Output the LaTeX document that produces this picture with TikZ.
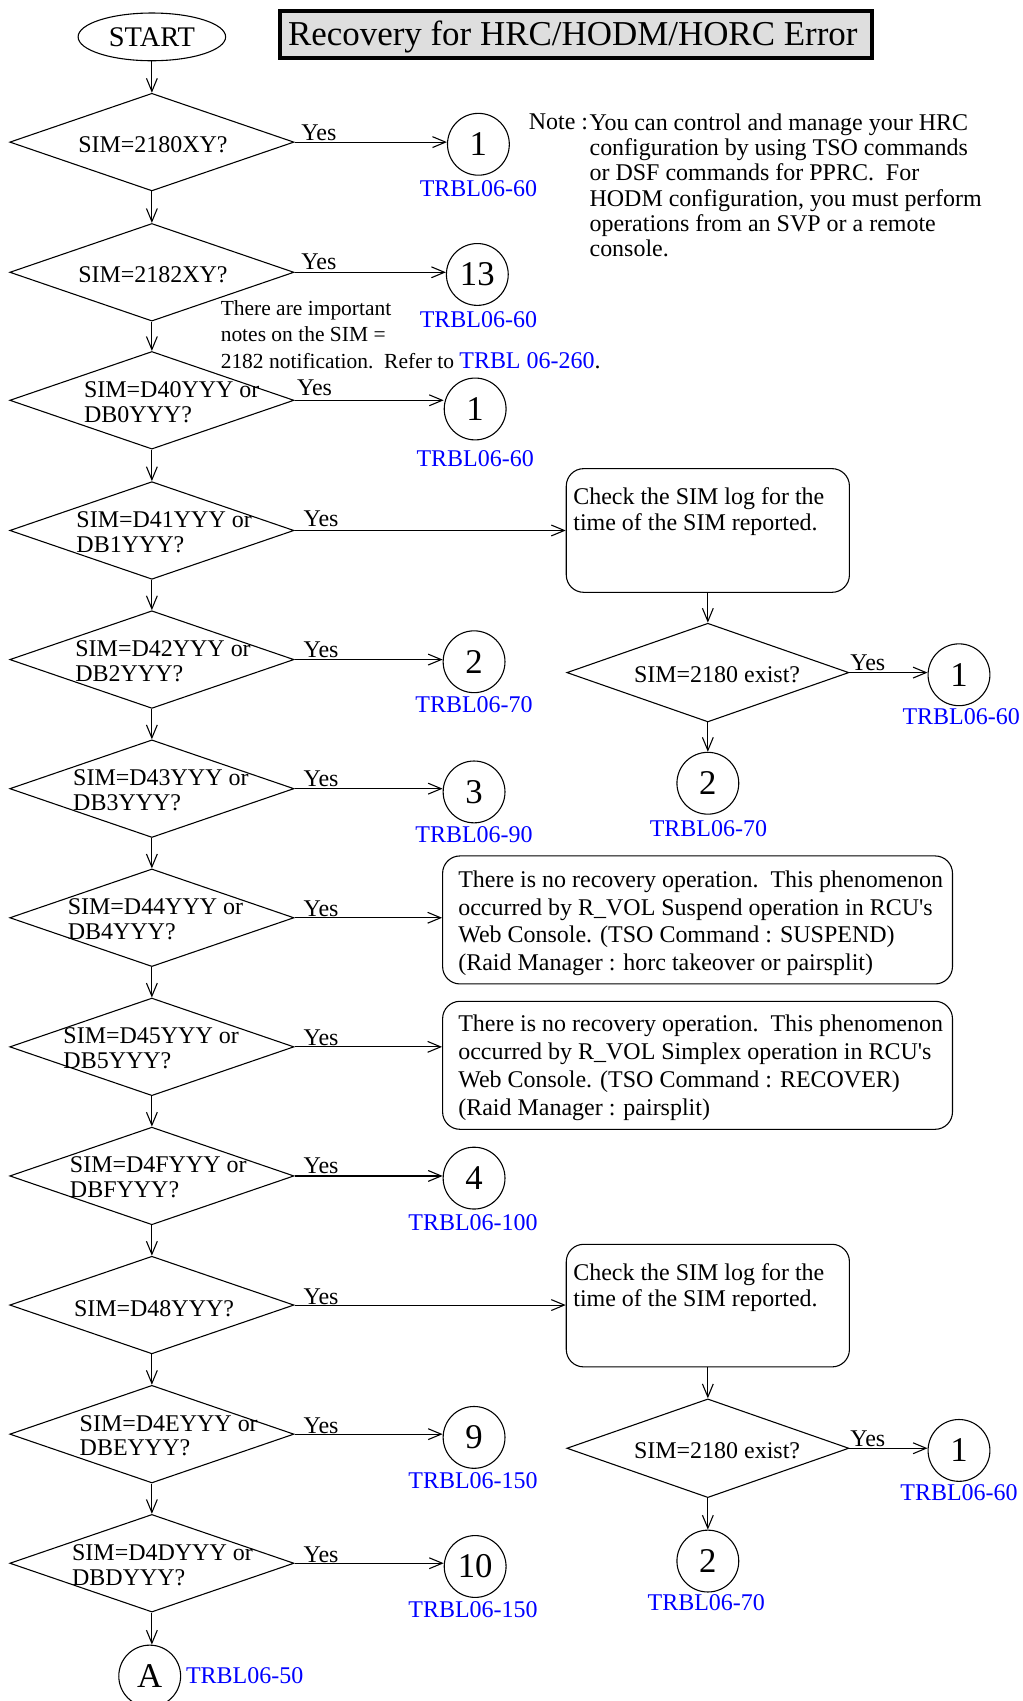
\documentclass[tikz,border=0pt]{standalone}
\usepackage{fontspec}
\setmainfont{Liberation Serif}
\newfontfamily\rawserif{Liberation Serif}
\usetikzlibrary{shapes.geometric,arrows.meta}
\definecolor{lblue}{RGB}{0,0,255}
\definecolor{tgray}{RGB}{222,222,222}
\newcommand{\myfs}[2]{\fontsize{#1}{#2}\selectfont}
\newcommand{\apos}{{\rawserif '}}
\begin{document}
\begin{tikzpicture}[x=0.5pt,y=-0.5pt,line width=0.5pt,
  arr/.style={-{Straight Barb[length=6pt,width=5pt]}, line width=0.5pt},
  dia/.style={draw, diamond, inner sep=0pt, minimum width=131pt, minimum height=45pt},
  sdia/.style={draw, diamond, inner sep=0pt, minimum width=130pt, minimum height=45.5pt},
  circ/.style={draw, circle, inner sep=0pt, minimum size=28.5pt, font=\myfs{16pt}{16pt}},
  txt/.style={inner sep=0pt, align=left, font=\myfs{11.05pt}{11.5pt}},
  yeslab/.style={inner sep=0pt, font=\myfs{11.05pt}{11.5pt}},
  refl/.style={inner sep=0pt, text=lblue, font=\myfs{11.05pt}{11.5pt}},
  rbox/.style={draw, rectangle, rounded corners=8pt, inner sep=0pt},
]
\useasboundingbox (0,0) rectangle (943,1568);

% start and title
\node[draw, ellipse, inner sep=0pt, minimum width=68pt, minimum height=22pt, font=\myfs{13.1pt}{14pt}] (start) at (140,34) {START};
\node[fill=tgray, minimum width=273pt, minimum height=21.7pt, inner sep=0pt] (title) at (531,31.5) {};
\node[inner sep=0pt, anchor=west, font=\myfs{16.1pt}{17pt}] (titletext) at (265,34) {Recovery for HRC/HODM/HORC Error};
\node[draw=black, line width=1.8pt, minimum width=273pt, minimum height=21.7pt, inner sep=0pt] (titleframe) at (531,31.5) {};

% note
\node[txt, anchor=north west, font=\myfs{11.05pt}{11.7pt}] (notelab) at (487,104) {Note :};
\node[txt, anchor=north west, font=\myfs{11.05pt}{11.7pt}] (notetext) at (543,104) {You can control and manage your HRC\\configuration by using TSO commands\\or DSF commands for PPRC.\ \ For\\HODM configuration, you must perform\\operations from an SVP or a remote\\console.};

% main diamonds
\node[dia] (d1) at (140,131) {};
\node[dia] (d2) at (140,251) {};
\node[dia] (d3) at (140,369) {};
\node[dia] (d4) at (140,489) {};
\node[dia] (d5) at (140,608) {};
\node[dia] (d6) at (140,727) {};
\node[dia] (d7) at (140,846) {};
\node[dia] (d8) at (140,965) {};
\node[dia] (d9) at (140,1084) {};
\node[dia] (d10) at (140,1203) {};
\node[dia] (d11) at (140,1322) {};
\node[dia] (d12) at (140,1441) {};

\node[txt] (t1) at (141,133) {SIM=2180XY?};
\node[txt] (t2) at (141,253) {SIM=2182XY?};
\node[txt, anchor=north west] (t3) at (77,351) {SIM=D40YYY or\\DB0YYY?};
\node[txt, anchor=north west] (t4) at (70,471) {SIM=D41YYY or\\DB1YYY?};
\node[txt, anchor=north west] (t5) at (69,590) {SIM=D42YYY or\\DB2YYY?};
\node[txt, anchor=north west] (t6) at (67,709) {SIM=D43YYY or\\DB3YYY?};
\node[txt, anchor=north west] (t7) at (62,828) {SIM=D44YYY or\\DB4YYY?};
\node[txt, anchor=north west] (t8) at (58,947) {SIM=D45YYY or\\DB5YYY?};
\node[txt, anchor=north west] (t9) at (64,1066) {SIM=D4FYYY or\\DBFYYY?};
\node[txt] (t10) at (142,1206) {SIM=D48YYY?};
\node[txt, anchor=north west] (t11) at (73,1304) {SIM=D4EYYY or\\DBEYYY?};
\node[txt, anchor=north west] (t12) at (66,1423) {SIM=D4DYYY or\\DBDYYY?};

% 2182 note
\node[inner sep=0pt, align=left, anchor=north west, font=\myfs{9.9pt}{12pt}] (n2182) at (203,277) {There are important\\notes on the SIM =\\2182 notification.\ \ Refer to {\myfs{11.05pt}{12pt}\textcolor{lblue}{TRBL 06-260}.}};

% circles
\node[circ] (c1) at (441,133) {1};
\node[circ] (c2) at (440,253) {13};
\node[circ] (c3) at (438,377) {1};
\node[circ] (c5) at (437,610) {2};
\node[circ] (c6) at (437,730) {3};
\node[circ] (c9) at (437,1086) {4};
\node[circ] (c11) at (437,1325) {9};
\node[circ] (c12) at (438,1444) {10};
\node[circ] (cA) at (138,1545) {A};

\node[refl] (r1) at (441,174) {TRBL06-60};
\node[refl] (r2) at (441,295) {TRBL06-60};
\node[refl] (r3) at (438,423) {TRBL06-60};
\node[refl] (r5) at (437,650) {TRBL06-70};
\node[refl] (r6) at (437,769) {TRBL06-90};
\node[refl] (r9) at (436,1127) {TRBL06-100};
\node[refl] (r11) at (436,1365) {TRBL06-150};
\node[refl] (r12) at (436,1484) {TRBL06-150};
\node[refl, anchor=west] (rA) at (171,1545) {TRBL06-50};

% yes labels
\node[yeslab] (y1) at (294,122) {Yes};
\node[yeslab] (y2) at (294,241) {Yes};
\node[yeslab] (y3) at (290,357) {Yes};
\node[yeslab] (y4) at (296,478) {Yes};
\node[yeslab] (y5) at (296,599) {Yes};
\node[yeslab] (y6) at (296,718) {Yes};
\node[yeslab] (y7) at (296,838) {Yes};
\node[yeslab] (y8) at (296,957) {Yes};
\node[yeslab] (y9) at (296,1075) {Yes};
\node[yeslab] (y10) at (296,1195) {Yes};
\node[yeslab] (y11) at (296,1314) {Yes};
\node[yeslab] (y12) at (296,1433) {Yes};

% row 4 group
\node[rbox, minimum width=130.5pt, minimum height=57pt] (b4) at (652.5,489) {};
\node[txt, anchor=north west, font=\myfs{11.05pt}{12pt}] (b4t) at (528,449) {Check the SIM log for the\\time of the SIM reported.};
\node[sdia] (e4) at (652.5,620) {};
\node[txt] (e4t) at (661,622) {SIM=2180 exist?};
\node[circ] (f4) at (884,622) {1};
\node[circ] (g4) at (652.5,722) {2};
\node[yeslab] (ye4) at (800,611) {Yes};
\node[refl] (rf4) at (886,661) {TRBL06-60};
\node[refl] (rg4) at (653,764) {TRBL06-70};

% row 10 group
\node[rbox, minimum width=130.5pt, minimum height=56.5pt] (b10) at (652.5,1203.5) {};
\node[txt, anchor=north west, font=\myfs{11.05pt}{12pt}] (b10t) at (528,1164) {Check the SIM log for the\\time of the SIM reported.};
\node[sdia] (e10) at (652.5,1335) {};
\node[txt] (e10t) at (661,1337) {SIM=2180 exist?};
\node[circ] (f10) at (884,1337) {1};
\node[circ] (g10) at (652.5,1439) {2};
\node[yeslab] (ye10) at (800,1326) {Yes};
\node[refl] (rf10) at (884,1376) {TRBL06-60};
\node[refl] (rg10) at (651,1477) {TRBL06-70};

% rows 7, 8 boxes
\node[rbox, minimum width=235pt, minimum height=59pt] (b7) at (643,848) {};
\node[txt, anchor=north west, font=\myfs{11.05pt}{12.85pt}] (b7t) at (422,802) {There is no recovery operation.\ \ This phenomenon\\occurred by R\_VOL Suspend operation in RCU\apos s\\Web Console. (TSO Command : SUSPEND)\\(Raid Manager : horc takeover or pairsplit)};
\node[rbox, minimum width=235pt, minimum height=59pt] (b8) at (643,982) {};
\node[txt, anchor=north west, font=\myfs{11.05pt}{12.85pt}] (b8t) at (422,935) {There is no recovery operation.\ \ This phenomenon\\occurred by R\_VOL Simplex operation in RCU\apos s\\Web Console. (TSO Command : RECOVER)\\(Raid Manager : pairsplit)};

% vertical connectors
\draw[arr] (start.south) -- (d1.north);
\draw[arr] (d1.south) -- (d2.north);
\draw[arr] (d2.south) -- (d3.north);
\draw[arr] (d3.south) -- (d4.north);
\draw[arr] (d4.south) -- (d5.north);
\draw[arr] (d5.south) -- (d6.north);
\draw[arr] (d6.south) -- (d7.north);
\draw[arr] (d7.south) -- (d8.north);
\draw[arr] (d8.south) -- (d9.north);
\draw[arr] (d9.south) -- (d10.north);
\draw[arr] (d10.south) -- (d11.north);
\draw[arr] (d11.south) -- (d12.north);
\draw[arr] (d12.south) -- (d12.south |- cA.north);

% horizontal connectors
\draw[arr] (d1.east) -- (d1.east -| c1.west);
\draw[arr] (d2.east) -- (d2.east -| c2.west);
\draw[arr] (d3.east) -- (d3.east -| c3.west);
\draw[arr] (d4.east) -- (d4.east -| b4.west);
\draw[arr] (d5.east) -- (d5.east -| c5.west);
\draw[arr] (d6.east) -- (d6.east -| c6.west);
\draw[arr] (d7.east) -- (d7.east -| b7.west);
\draw[arr] (d8.east) -- (d8.east -| b8.west);
\draw[arr] (d9.east) -- (d9.east -| c9.west);
\draw[arr] (d10.east) -- (d10.east -| b10.west);
\draw[arr] (d11.east) -- (d11.east -| c11.west);
\draw[arr] (d12.east) -- (d12.east -| c12.west);

% side groups
\draw[arr] (b4.south) -- (e4.north);
\draw[arr] (e4.east) -- (e4.east -| f4.west);
\draw[arr] (e4.south) -- (g4.north);
\draw[arr] (b10.south) -- (e10.north);
\draw[arr] (e10.east) -- (e10.east -| f10.west);
\draw[arr] (e10.south) -- (g10.north);
\end{tikzpicture}
\end{document}
